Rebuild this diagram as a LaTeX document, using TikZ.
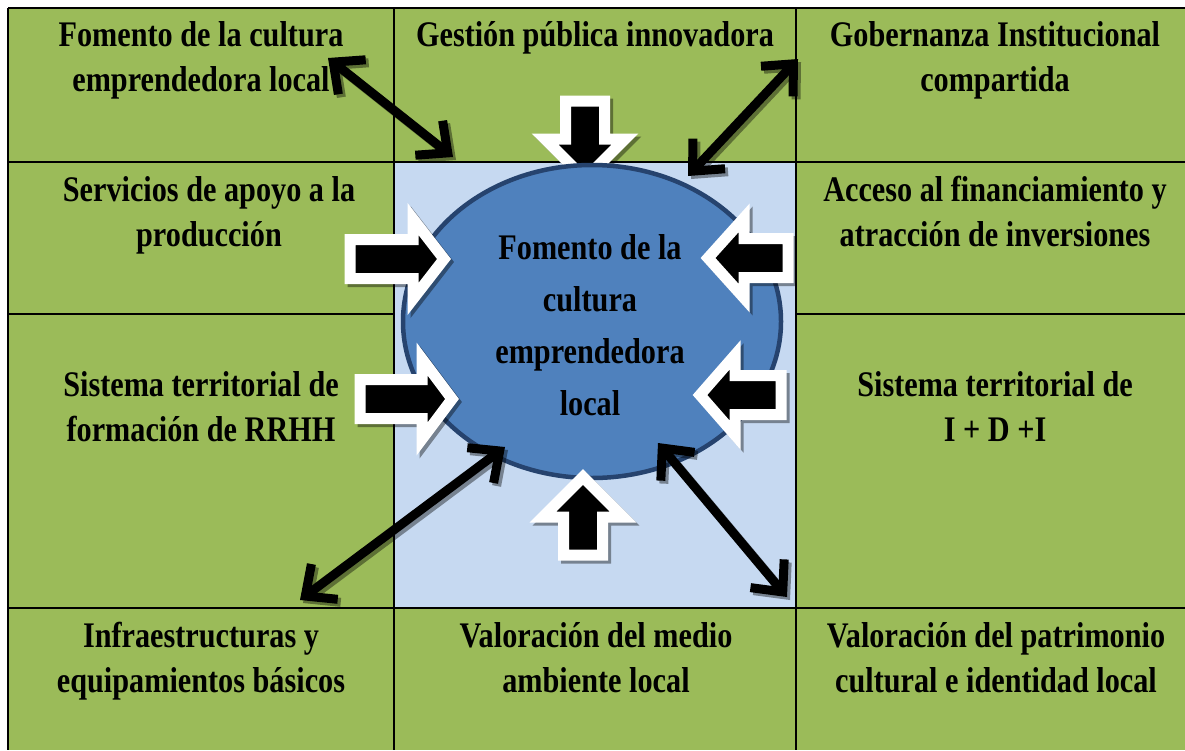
\documentclass[tikz,border=0pt]{standalone}
\usepackage{fontspec}
\setmainfont[FakeStretch=0.84]{Liberation Serif}
\usetikzlibrary{positioning}
\usetikzlibrary{arrows.meta}
\usetikzlibrary{shapes.geometric}

\definecolor{cellgreen}{HTML}{9BBB59}
\definecolor{cellblue}{HTML}{C6D9F1}
\definecolor{corefill}{HTML}{4F81BD}
\definecolor{coreline}{HTML}{26436E}

\tikzset{
  celltext/.style={align=center,inner sep=0pt,anchor=north,
    font=\bfseries\fontsize{36}{45}\selectfont},
  gridline/.style={line width=2.5pt},
  twoway/.style={line width=9pt,
    {Straight Barb[length=24pt,width=44pt]}-{Straight Barb[length=24pt,width=44pt]}},
  twowayshadow/.style={twoway,draw opacity=.4,transform canvas={shift={(3pt,-3pt)}}},
  pics/blockarrow/.style args={#1/#2}{code={
    \path [draw=black,draw opacity=.4,line width=11pt,transform canvas={shift={(3pt,-3pt)}}]
      (0,0) -- (-#2,40) -- (-#2,19.5) -- (-#1,19.5) -- (-#1,-19.5) -- (-#2,-19.5) -- (-#2,-40) -- cycle;
    \path [draw=white,fill=black,line width=11pt]
      (0,0) -- (-#2,40) -- (-#2,19.5) -- (-#1,19.5) -- (-#1,-19.5) -- (-#2,-19.5) -- (-#2,-40) -- cycle;
  }}
}

\begin{document}
\begin{tikzpicture}[x=1pt,y=-1pt]
  \useasboundingbox (0,0) rectangle (1185,750);

  % table
  \fill [cellgreen] (8,8) rectangle (1185,750);
  \fill [cellblue] (394,162) rectangle (796,608);
  \draw [gridline] (8,8) -- (1185,8);
  \draw [gridline] (8,162) -- (1185,162);
  \draw [gridline] (8,314) -- (394,314);
  \draw [gridline] (796,314) -- (1185,314);
  \draw [gridline] (8,608) -- (1185,608);
  \draw [gridline] (8,8) -- (8,750);
  \draw [gridline] (394,8) -- (394,750);
  \draw [gridline] (796,8) -- (796,750);

  \node [celltext] (c11) at (201,21)  {Fomento de la cultura\\emprendedora local};
  \node [celltext] (c12) at (595,21)  {Gestión pública innovadora};
  \node [celltext] (c13) at (995,21)  {Gobernanza Institucional\\compartida};
  \node [celltext] (c21) at (209,176) {Servicios de apoyo a la\\producción};
  \node [celltext] (c23) at (995,176) {Acceso al financiamiento y\\atracción de inversiones};
  \node [celltext] (c31) at (201,371) {Sistema territorial de\\formación de RRHH};
  \node [celltext] (c33) at (995,371) {Sistema territorial de\\I + D +I};
  \node [celltext] (c41) at (201,622) {Infraestructuras y\\equipamientos básicos};
  \node [celltext] (c42) at (596,622) {Valoración del medio\\ambiente local};
  \node [celltext] (c43) at (996,622) {Valoración del patrimonio\\cultural e identidad local};

  % centre
  \pic [rotate=-90] (topin) at (585,179) {blockarrow=78/40};
  \node [ellipse,fill=corefill,draw=coreline,line width=4.5pt,
         minimum width=378pt,minimum height=313pt,align=center,
         font=\bfseries\fontsize{36}{52}\selectfont] (core) at (592,321.5) {};
  \node [align=center,font=\bfseries\fontsize{36}{52}\selectfont] (coretext) at (590,325)
        {Fomento de la\\cultura\\emprendedora\\local};
  \pic [rotate=90]  (botin) at (583,477) {blockarrow=78/40};
  \pic (lupin)  at (444,259) {blockarrow=94/31};
  \pic (llowin) at (452,399) {blockarrow=92/30};
  \pic [rotate=180] (rupin)  at (708,258) {blockarrow=80/36};
  \pic [rotate=180] (rlowin) at (700,395) {blockarrow=81/35};

  % links to the corner cells
  \coordinate (p1) at (328,58);  \coordinate (q1) at (453,157);
  \coordinate (p2) at (688,176); \coordinate (q2) at (798,59);
  \coordinate (p3) at (505,447); \coordinate (q3) at (300,600);
  \coordinate (p4) at (658,443); \coordinate (q4) at (787,597);
  \foreach \i in {1,...,4} {
    \draw [twowayshadow] (p\i) -- (q\i);
    \draw [twoway] (p\i) -- (q\i);
  }
\end{tikzpicture}
\end{document}
